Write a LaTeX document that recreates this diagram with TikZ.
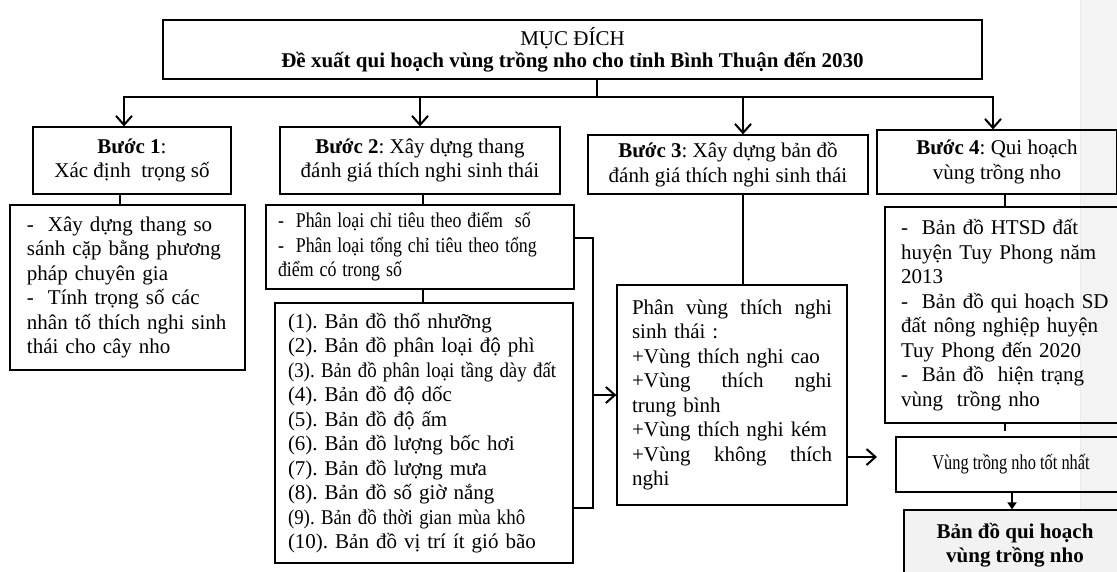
\documentclass[tikz,border=0pt]{standalone}
\usepackage{fontspec}
\setmainfont{Liberation Serif}
\usetikzlibrary{arrows.meta}
\definecolor{stripgray}{RGB}{243,243,243}
\definecolor{finalgray}{RGB}{242,242,242}
\tikzset{
  box/.style={draw, line width=1.2pt, inner ysep=0pt},
  conn/.style={line width=2pt},
  arr/.style={conn, -{Straight Barb[length=9pt,width=16pt,line width=2pt]}},
  arrsmall/.style={line width=2pt, -{Triangle[length=7pt,width=9pt]}},
  txt/.style={font=\fontsize{21}{24.5}\selectfont},
}
\begin{document}
\frenchspacing
\begin{tikzpicture}[x=1pt,y=-1pt]
\useasboundingbox (0,0) rectangle (1117,571);
\clip (0,0) rectangle (1117,571);
\fill[stripgray] (1080,0) rectangle (1117,571);
\draw[black!8, line width=0.6pt] (1080,0) -- (1080,571);

% top box
\node[box, txt, font=\fontsize{21}{22}\selectfont, minimum width=819pt, minimum height=59pt, align=center] (top) at (572.5,49.5)
  {MỤC ĐÍCH\\\textbf{Đề xuất qui hoạch vùng trồng nho cho tỉnh Bình Thuận đến 2030}};

% step boxes
\node[box, txt, minimum width=198pt, minimum height=67pt, align=center] (s1) at (132,160.5)
  {\textbf{Bước 1}:\\Xác định\ \ trọng số};
\node[box, txt, minimum width=280pt, minimum height=67pt, align=center] (s2) at (420,160.5)
  {\textbf{Bước 2}: Xây dựng thang\\đánh giá thích nghi sinh thái};
\node[box, txt, minimum width=280pt, minimum height=59pt, align=center] (s3) at (728,164.5)
  {\textbf{Bước 3}: Xây dựng bản đồ\\đánh giá thích nghi sinh thái};
\node[box, txt, minimum width=240pt, minimum height=64pt, align=center] (s4) at (997,162)
  {\textbf{Bước 4}: Qui hoạch\\vùng trồng nho};

% content boxes
\node[box, txt, inner xsep=17pt, text width=201pt, minimum height=165pt, align=left] (c1) at (127.5,287.5)
  {-\ \ Xây dựng thang so\\sánh cặp bằng phương\\pháp chuyên gia\\-\ \ Tính trọng số các\\nhân tố thích nghi sinh\\thái cho cây nho};
\node[box, txt, inner xsep=12pt, text width=284pt, minimum height=84pt, align=left] (c2a) at (420,247)
  {\scalebox{0.85}[1]{-\ \ Phân loại chỉ tiêu theo điểm\ \ số}\\\scalebox{0.85}[1]{-\ \ Phân loại tổng chỉ tiêu theo tổng}\\\scalebox{0.85}[1]{điểm có trong số}};
\node[box, txt, inner xsep=13pt, text width=272pt, minimum height=260pt, align=left] (c2b) at (424,433)
  {(1). Bản đồ thổ nhưỡng\\(2). Bản đồ phân loại độ phì\\\scalebox{0.9}[1]{(3). Bản đồ phân loại tầng dày đất}\\(4). Bản đồ độ dốc\\(5). Bản đồ độ ấm\\(6). Bản đồ lượng bốc hơi\\(7). Bản đồ lượng mưa\\(8). Bản đồ số giờ nắng\\\scalebox{0.9}[1]{(9). Bản đồ thời gian mùa khô}\\(10). Bản đồ vị trí ít gió bão};
\node[box, txt, inner xsep=15pt, text width=200pt, minimum height=220pt, align=left] (c3) at (732,395)
  {\makebox[200pt]{Phân\hfill vùng\hfill thích\hfill nghi}\\sinh thái :\\+Vùng thích nghi cao\\\makebox[200pt]{+Vùng\hfill thích\hfill nghi}\\trung bình\\+Vùng thích nghi kém\\\makebox[200pt]{+Vùng\hfill không\hfill thích}\\nghi};
\node[box, txt, inner xsep=16pt, text width=209pt, minimum height=216pt, align=left] (c4) at (1005.5,315)
  {-\ \ Bản đồ HTSD đất\\huyện Tuy Phong năm\\2013\\-\ \ Bản đồ qui hoạch SD\\đất nông nghiệp huyện\\Tuy Phong đến 2020\\-\ \ Bản đồ\ \ hiện trạng\\vùng\ \ trồng nho};
\node[box, txt, minimum width=230pt, minimum height=55pt, align=center] (best) at (1011,464.5)
  {\scalebox{0.78}[1]{Vùng trồng nho tốt nhất}};
\node[box, txt, fill=finalgray, minimum width=222pt, minimum height=70pt, align=center] (final) at (1015,545)
  {\textbf{Bản đồ qui hoạch}\\\textbf{vùng trồng nho}};

% connectors from top
\coordinate (j0) at (597,97);
\coordinate (hL) at (124,97);
\coordinate (h2) at (420,97);
\coordinate (h3) at (743,97);
\coordinate (hR) at (993,97);
\draw[conn] (top.south -| j0) -- (j0);
\draw[conn, line cap=rect] (hL) -- (hR);
\draw[arr] (hL) -- (hL |- s1.north);
\draw[arr] (h2) -- (s2.north);
\draw[arr] (h3) -- (h3 |- s3.north);
\draw[arr] (hR) -- (hR |- s4.north);

% step -> content
\draw[conn] ([xshift=-12pt]s1.south) -- ([xshift=-12pt]s1.south |- c1.north);
\draw[conn] ([xshift=3pt]s2.south) -- ([xshift=3pt]s2.south |- c2a.north);
\draw[conn] ([xshift=3pt]c2a.south) -- ([xshift=3pt]c2a.south |- c2b.north);
\draw[conn] ([xshift=15pt]s3.south) -- ([xshift=15pt]s3.south |- c3.north);
\draw[conn] ([xshift=8pt]s4.south) -- ([xshift=8pt]s4.south |- c4.north);

% bracket from step 2 boxes to step 3 content
\coordinate (bx) at (593,395);
\draw[conn] ([yshift=9pt]c2a.east) -| (bx) |- ([yshift=-75pt]c2b.east);
\draw[arr] (bx) -- (c3.west);

% step 3 content -> right
\coordinate (o3) at (877,457);
\draw[arr] (c3.east |- o3) -- (o3);

% stub under content 4
\coordinate (stub) at (1005,431);
\draw[conn] (c4.south -| stub) -- (stub);

% best -> final
\draw[arrsmall] ([xshift=1pt]best.south) -- ([xshift=1pt]best.south |- final.north);
\end{tikzpicture}
\end{document}
